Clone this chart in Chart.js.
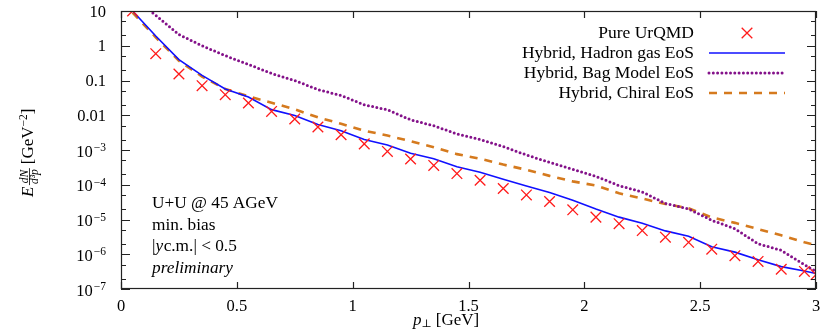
<!DOCTYPE html>
<html>
<head>
<meta charset="utf-8">
<script src="https://cdn.jsdelivr.net/npm/chart.js@4.4.1/dist/chart.umd.min.js"></script>
<style>
    html, body { margin: 0; padding: 0; background: #fff; }
    #wrap { width: 830px; height: 332px; }
</style>
</head>
<body>
<div id="wrap"><canvas id="spectra_chart"></canvas></div>
<script>
// transverse momentum bins (GeV)
const ptValues = [0.05, 0.15, 0.25, 0.35, 0.45, 0.55, 0.65, 0.75, 0.85, 0.95,
                  1.05, 1.15, 1.25, 1.35, 1.45, 1.55, 1.65, 1.75, 1.85, 1.95,
                  2.05, 2.15, 2.25, 2.35, 2.45, 2.55, 2.65, 2.75, 2.85, 2.95, 3.0];

const pureUrqmd = [10, 0.59, 0.154, 0.071, 0.039, 0.0225, 0.0129, 0.0078, 0.0046, 0.00275,
                   0.0015, 0.00091, 0.00055, 0.00036, 0.00021, 0.000135, 7.8e-5, 5.1e-5, 3.3e-5, 1.9e-5,
                   1.17e-5, 7.6e-6, 4.8e-6, 3.1e-6, 2.2e-6, 1.4e-6, 9.1e-7, 6.2e-7, 3.7e-7, 3.2e-7, 2.6e-7];

const hadronGas = [10, 1.9, 0.40, 0.14, 0.057, 0.0335, 0.0145, 0.0098, 0.0054, 0.0036,
                   0.0020, 0.0014, 0.00081, 0.00056, 0.00033, 0.00023, 0.000145, 9.2e-5, 6.0e-5, 3.6e-5,
                   2.0e-5, 1.17e-5, 7.8e-6, 4.7e-6, 3.3e-6, 1.65e-6, 1.15e-6, 6.9e-7, 4.4e-7, 3.3e-7, 2.8e-7];

const bagModel = [25, 7.5, 2.1, 1.0, 0.52, 0.29, 0.16, 0.10, 0.055, 0.037,
                  0.020, 0.0144, 0.0074, 0.0050, 0.0029, 0.0020, 0.00126, 0.00072, 0.00044, 0.00028,
                  0.000175, 9.4e-5, 6.2e-5, 2.9e-5, 2.0e-5, 9.5e-6, 5.4e-6, 2.0e-6, 1.3e-6, 5.0e-7, 3.2e-7];

const chiralEos = [9, 1.75, 0.37, 0.13, 0.057, 0.035, 0.023, 0.0148, 0.0087, 0.0057,
                   0.0036, 0.0026, 0.0018, 0.0012, 0.00076, 0.00056, 0.00038, 0.00027, 0.00018, 0.000125,
                   9.5e-5, 5.7e-5, 4.0e-5, 2.8e-5, 2.1e-5, 1.15e-5, 8.0e-6, 5.3e-6, 3.5e-6, 2.2e-6, 1.85e-6];

const seriesNames = ["Pure UrQMD", "Hybrid, Hadron gas EoS", "Hybrid, Bag Model EoS", "Hybrid, Chiral EoS"];

const xTickValues = [0, 0.5, 1, 1.5, 2, 2.5, 3];
const xTickLabels = ["0", "0.5", "1", "1.5", "2", "2.5", "3"];
const yTickValues = [1e-7, 1e-6, 1e-5, 1e-4, 1e-3, 0.01, 0.1, 1, 10];
const yTickLabels = ["10^\u22127", "10^\u22126", "10^\u22125", "10^\u22124", "10^\u22123", "0.01", "0.1", "1", "10"];

const serif = '"Liberation Serif", "DejaVu Serif", serif';

function toPoints(ys) {
    return ptValues.map((x, i) => ({ x: x, y: ys[i] }));
}

// inward ticks + box frame, like gnuplot
const framePlugin = {
    id: 'frame',
    afterDatasetsDraw(chart) {
        const ctx = chart.ctx;
        const a = chart.chartArea;
        const xs = chart.scales.x, ys = chart.scales.y;
        ctx.save();
        ctx.strokeStyle = '#222';
        ctx.lineWidth = 1.2;
        ctx.strokeRect(a.left + 0.5, a.top + 0.5, a.right - a.left - 1, a.bottom - a.top - 1);
        ctx.beginPath();
        xTickValues.forEach(v => {
            const px = Math.round(xs.getPixelForValue(v)) + 0.5;
            ctx.moveTo(px, a.bottom); ctx.lineTo(px, a.bottom - 7);
            ctx.moveTo(px, a.top); ctx.lineTo(px, a.top + 7);
        });
        yTickValues.forEach((v, i) => {
            const py = Math.round(ys.getPixelForValue(v)) + 0.5;
            ctx.moveTo(a.left, py); ctx.lineTo(a.left + 9, py);
            ctx.moveTo(a.right, py); ctx.lineTo(a.right - 9, py);
            if (i < yTickValues.length - 1) {
                [2, 5].forEach(m => {
                    const pm = Math.round(ys.getPixelForValue(v * m)) + 0.5;
                    ctx.moveTo(a.left, pm); ctx.lineTo(a.left + 5, pm);
                    ctx.moveTo(a.right, pm); ctx.lineTo(a.right - 5, pm);
                });
            }
        });
        ctx.stroke();
        ctx.restore();
    }
};

// texts: y tick labels with exponents, axis titles, info box, legend
const textPlugin = {
    id: 'texts',
    afterDraw(chart) {
        const ctx = chart.ctx;
        const a = chart.chartArea;
        const ys = chart.scales.y;
        ctx.save();
        ctx.fillStyle = '#000';
        ctx.textBaseline = 'alphabetic';

        // y tick labels
        const labelRight = a.left - 15;
        yTickValues.forEach((v, i) => {
            const py = ys.getPixelForValue(v);
            const parts = yTickLabels[i].split('^');
            ctx.textAlign = 'left';
            if (parts.length === 2) {
                ctx.font = '11.5px ' + serif;
                const ew = ctx.measureText(parts[1]).width;
                ctx.font = '16.5px ' + serif;
                const bw = ctx.measureText(parts[0]).width;
                ctx.fillText(parts[0], labelRight - ew - bw - 1, py + 6.5);
                ctx.font = '11.5px ' + serif;
                ctx.fillText(parts[1], labelRight - ew, py + 1);
            } else {
                ctx.font = '16.5px ' + serif;
                ctx.textAlign = 'right';
                ctx.fillText(parts[0], labelRight, py + 5.5);
            }
        });

        // y title: E dN/d3p [GeV^-2], rotated
        ctx.save();
        ctx.translate(33, 197);
        ctx.rotate(-Math.PI / 2);
        ctx.textAlign = 'left';
        let u = 0;
        ctx.font = 'italic 17px ' + serif;
        ctx.fillText('E', u, 0);
        u += ctx.measureText('E').width + 1.5;
        ctx.font = 'italic 11.5px ' + serif;
        const nw = ctx.measureText('dN').width, dw = ctx.measureText('d\u00b3p').width;
        const fw = Math.max(nw, dw) + 2;
        ctx.fillText('dN', u + (fw - nw) / 2, -5.5);
        ctx.fillText('d\u00b3p', u + (fw - dw) / 2, 5);
        ctx.fillRect(u, -3.8, fw, 0.8);
        u += fw + 4;
        ctx.font = '17px ' + serif;
        ctx.fillText('[GeV', u, 0);
        u += ctx.measureText('[GeV').width;
        ctx.font = '11.5px ' + serif;
        ctx.fillText('\u22122', u, -6.5);
        u += ctx.measureText('\u22122').width;
        ctx.font = '17px ' + serif;
        ctx.fillText(']', u, 0);
        ctx.restore();

        // x title: p_perp [GeV]
        let xx = 413;
        ctx.textAlign = 'left';
        ctx.font = 'italic 17px ' + serif;
        ctx.fillText('p', xx, 325);
        xx += ctx.measureText('p').width;
        ctx.font = '11px "DejaVu Serif", serif';
        ctx.fillText('\u22a5', xx, 327);
        xx += ctx.measureText('\u22a5').width + 4;
        ctx.font = '17px ' + serif;
        ctx.fillText('[GeV]', xx, 325);

        // info box
        const ix = 152;
        ctx.font = '17.3px ' + serif;
        ctx.fillText('U+U @ 45 AGeV', ix, 208);
        ctx.fillText('min. bias', ix, 230);
        let lx = ix;
        ctx.fillText('|', lx, 251);
        lx += ctx.measureText('|').width;
        ctx.font = 'italic 17.3px ' + serif;
        ctx.fillText('y', lx, 251);
        lx += ctx.measureText('y').width + 0.5;
        ctx.font = '17.3px ' + serif;
        ctx.fillText('c.m.| < 0.5', lx, 251);
        ctx.font = 'italic 17.3px ' + serif;
        ctx.fillText('preliminary', ix, 273);

        // legend
        const rowY = [33, 53, 73, 93];
        chart.data.datasets.forEach((ds, i) => {
            const cy = rowY[i];
            ctx.font = '17.5px ' + serif;
            ctx.textAlign = 'right';
            ctx.fillStyle = '#000';
            ctx.fillText(seriesNames[i], 694, cy + 5);
            ctx.save();
            ctx.strokeStyle = ds.borderColor;
            ctx.lineWidth = ds.borderWidth;
            if (ds.showLine === false) {
                const r = ds.pointRadius * Math.SQRT1_2;
                ctx.beginPath();
                ctx.moveTo(747 - r, cy - r); ctx.lineTo(747 + r, cy + r);
                ctx.moveTo(747 - r, cy + r); ctx.lineTo(747 + r, cy - r);
                ctx.stroke();
            } else {
                ctx.setLineDash(ds.borderDash || []);
                ctx.lineCap = ds.borderCapStyle || 'butt';
                ctx.beginPath();
                ctx.moveTo(709, cy); ctx.lineTo(785, cy);
                ctx.stroke();
            }
            ctx.restore();
        });
        ctx.restore();
    }
};

const ctx = document.getElementById("spectra_chart");
const spectra_chart = new Chart(ctx, {
    type: 'line',
    data: {
        datasets: [{
            label: seriesNames[0],
            data: toPoints(pureUrqmd),
            showLine: false,
            pointStyle: 'crossRot',
            pointRadius: 7.5,
            borderColor: '#ff1a1a',
            borderWidth: 1.3
        }, {
            label: seriesNames[1],
            data: toPoints(hadronGas),
            borderColor: '#1010ff',
            borderWidth: 1.6,
            pointRadius: 0
        }, {
            label: seriesNames[2],
            data: toPoints(bagModel),
            borderColor: '#84128a',
            borderWidth: 3,
            borderDash: [0, 4.3],
            borderCapStyle: 'round',
            pointRadius: 0
        }, {
            label: seriesNames[3],
            data: toPoints(chiralEos),
            borderColor: '#d57a1e',
            borderWidth: 2.6,
            borderDash: [8, 7],
            pointRadius: 0
        }]
    },
    options: {
        responsive: true,
        maintainAspectRatio: false,
        animation: false,
        devicePixelRatio: 1,
        layout: {
            padding: { top: 11, right: 14, left: 0, bottom: 0 }
        },
        plugins: {
            legend: { display: false },
            tooltip: { enabled: false }
        },
        scales: {
            x: {
                type: 'linear',
                min: 0,
                max: 3,
                afterBuildTicks: scale => {
                    scale.ticks = xTickValues.map(v => ({ value: v }));
                },
                afterFit: scale => { scale.height = 43; },
                ticks: {
                    callback: (value, index) => xTickLabels[index],
                    padding: 8,
                    color: '#000',
                    maxRotation: 0,
                    font: { family: serif, size: 16.5 }
                },
                grid: { display: false, drawTicks: false },
                border: { display: false }
            },
            y: {
                type: 'logarithmic',
                min: 1e-7,
                max: 10,
                afterFit: scale => { scale.width = 121; },
                ticks: { display: false },
                grid: { display: false, drawTicks: false },
                border: { display: false }
            }
        }
    },
    plugins: [framePlugin, textPlugin]
});
</script>
</body>
</html>
